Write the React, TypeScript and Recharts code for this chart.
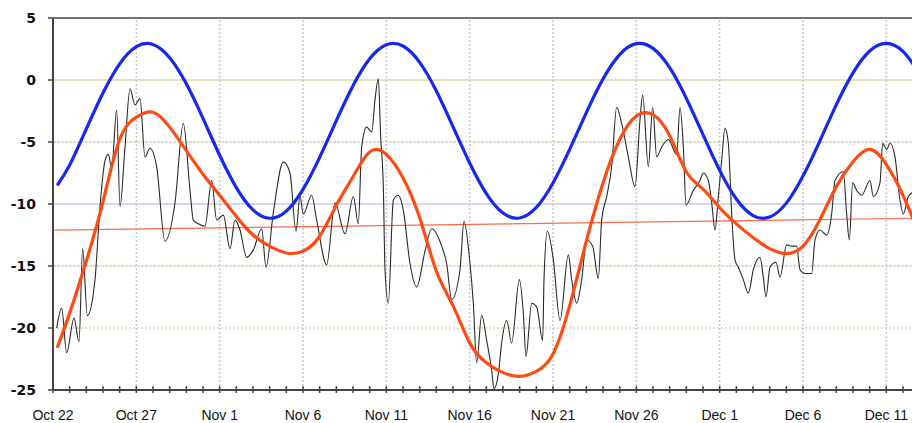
import React from "react";
import { LineChart, Line, XAxis, YAxis, ReferenceLine } from "recharts";

// ---- Data ----
const xTickDays = [0, 5, 10, 15, 20, 25, 30, 35, 40, 45, 50];
const xTickLabels = ["Oct 22", "Oct 27", "Nov 1", "Nov 6", "Nov 11", "Nov 16", "Nov 21", "Nov 26", "Dec 1", "Dec 6", "Dec 11"];
const yTicks = [-25, -20, -15, -10, -5, 0, 5];
const yTickLabels = ["-25", "-20", "-15", "-10", "-5", "0", "5"];

// days since Oct 22
const curveDays = [0.25, 1, 2, 3, 4, 5, 6, 7, 8, 9, 10, 11, 12, 13, 14, 15, 16, 17, 18, 19, 20, 21, 22, 23, 24, 25, 26,
  27, 28, 29, 30, 31, 32, 33, 34, 35, 36, 37, 38, 39, 40, 41, 42, 43, 44, 45, 46, 47, 48, 49, 50, 51, 52];
const blueValues = [-8.5, -6.86, -3.94, -1.05, 1.3, 2.69, 2.87, 1.8, -0.31, -3.1, -6.07, -8.68, -10.48, -11.15, -10.57,
  -8.82, -6.24, -3.28, -0.46, 1.71, 2.84, 2.74, 1.42, -0.88, -3.76, -6.69, -9.16, -10.73, -11.13, -10.27, -8.3, -5.6,
  -2.63, 0.08, 2.05, 2.93, 2.55, 0.99, -1.48, -4.41, -7.29, -9.6, -10.93, -11.05, -9.93, -7.75, -4.95, -1.99, 0.57,
  2.34, 2.95, 2.3, 0.51];
const orangeValues = [-21.6, -18.8, -14.6, -9.8, -4.8, -3.0, -2.6, -3.8, -5.7, -7.6, -9.3, -11.0, -12.5, -13.4, -13.95,
  -13.8, -12.6, -10.1, -7.8, -5.8, -6.0, -7.9, -11.1, -15.4, -18.2, -21.2, -22.8, -23.6, -23.9, -23.5, -22.1, -18.2,
  -13.0, -8.3, -4.8, -2.9, -2.8, -4.5, -7.4, -8.8, -10.3, -11.6, -12.7, -13.6, -14.0, -13.4, -11.3, -8.6, -6.6, -5.6,
  -6.8, -9.3, -12.5];

const trendDays = [0.1, 51.6];
const trendValues = [-12.1, -11.15];

const blackDays = [0.22, 0.52, 0.82, 1.26, 1.56, 1.78, 2.06, 2.52, 2.82, 3.12, 3.32, 3.52, 3.82, 4.02, 4.32, 4.62, 4.92,
  5.22, 5.52, 5.82, 6.22, 6.72, 7.32, 7.82, 8.22, 8.42, 8.72, 9.12, 9.52, 9.82, 10.22, 10.62, 10.92, 11.22, 11.62, 12.02,
  12.52, 12.78, 13.22, 13.82, 14.22, 14.58, 14.82, 15.02, 15.52, 15.82, 16.42, 16.92, 17.52, 18.02, 18.32, 18.52, 18.82,
  19.12, 19.32, 19.52, 19.66, 19.82, 19.92, 20.12, 20.42, 20.72, 21.02, 21.42, 21.82, 22.32, 22.72, 23.32, 23.62, 23.92,
  24.42, 24.66, 25.02, 25.22, 25.42, 25.72, 26.02, 26.32, 26.46, 26.72, 26.92, 27.22, 27.52, 27.98, 28.22, 28.38, 28.72,
  29.02, 29.38, 29.46, 29.66, 30.02, 30.42, 30.92, 31.12, 31.42, 31.72, 32.02, 32.38, 32.72, 32.92, 33.22, 33.52, 33.82,
  34.12, 34.52, 34.92, 35.22, 35.38, 35.72, 35.98, 36.22, 36.52, 36.92, 37.42, 37.62, 37.82, 37.98, 38.42, 38.82, 39.02,
  39.32, 39.52, 39.72, 39.92, 40.12, 40.32, 40.52, 40.72, 40.92, 41.12, 41.42, 41.72, 42.02, 42.42, 42.62, 42.78, 43.02,
  43.38, 43.62, 44.02, 44.32, 44.62, 44.82, 45.12, 45.52, 45.72, 46.02, 46.42, 46.72, 46.92, 47.42, 47.62, 47.78, 47.98,
  48.22, 48.52, 49.02, 49.22, 49.62, 49.78, 50.02, 50.22, 50.52, 50.82, 51.02, 51.32, 51.54];
const blackValues = [-20.0, -18.4, -22.0, -19.2, -21.1, -13.6, -19.0, -16.1, -10.2, -6.5, -6.0, -7.1, -2.4, -10.2, -5.4,
  -0.7, -2.0, -1.5, -6.2, -5.5, -7.0, -13.0, -9.9, -3.5, -8.9, -11.3, -11.6, -11.8, -8.1, -11.3, -10.9, -13.6, -11.3,
  -12.1, -14.3, -13.7, -12.0, -15.1, -10.7, -6.6, -7.5, -12.2, -9.4, -10.8, -9.3, -11.3, -14.9, -9.9, -12.4, -9.4, -11.6,
  -5.4, -3.8, -4.2, -1.6, 0.1, -4.6, -8.6, -15.3, -18.0, -9.7, -9.3, -10.5, -14.8, -16.7, -13.8, -12.0, -13.4, -14.8,
  -17.7, -15.3, -11.4, -14.8, -18.0, -22.8, -18.95, -21.0, -23.4, -24.9, -23.7, -21.2, -19.4, -21.2, -16.1, -18.8, -22.3,
  -18.0, -18.3, -21.0, -16.1, -12.2, -14.5, -19.4, -14.1, -16.1, -18.0, -16.1, -12.9, -13.4, -16.0, -11.3, -9.4, -7.0,
  -2.2, -3.5, -6.2, -8.6, -3.2, -1.2, -7.0, -2.2, -6.2, -5.4, -4.8, -6.0, -2.2, -5.4, -10.1, -8.9, -8.1, -7.5, -8.1, -9.9,
  -12.1, -9.4, -6.5, -3.9, -5.1, -10.8, -14.5, -15.1, -16.1, -17.2, -15.3, -14.3, -15.9, -17.5, -15.1, -14.7, -15.9,
  -13.3, -13.4, -13.4, -15.3, -15.6, -15.6, -12.9, -12.1, -12.5, -10.8, -8.1, -7.4, -10.8, -12.9, -8.3, -8.9, -9.3, -8.1,
  -9.4, -8.3, -5.1, -5.6, -5.1, -6.2, -9.7, -10.8, -9.4, -9.1];

const zip = (xs: number[], ys: number[]) => xs.map((x, i) => ({ x, y: ys[i] }));
const blueData = zip(curveDays, blueValues);
const orangeData = zip(curveDays, orangeValues);
const trendData = zip(trendDays, trendValues);
const blackData = zip(blackDays, blackValues);

const minorTicks = Array.from({ length: 52 }, (_, i) => i);

const XTick = (props: any) => {
  const { x, y, payload } = props;
  const idx = xTickDays.indexOf(payload.value);
  return (
    <g>
      <line x1={x} x2={x} y1={y - 4} y2={y + 3} stroke="#444" strokeWidth={1.5} />
      {idx >= 0 && (
        <text x={x} y={y + 30} textAnchor="middle" fontFamily="'Liberation Sans', Arial, sans-serif" fontSize={14} fill="#111">
          {xTickLabels[idx]}
        </text>
      )}
    </g>
  );
};

const YTick = (props: any) => {
  const { x, y, payload } = props;
  const idx = yTicks.indexOf(payload.value);
  return (
    <g>
      <line x1={x - 5} x2={x} y1={y} y2={y} stroke="#444" strokeWidth={1.5} />
      <text x={x - 17} y={y + 5} textAnchor="end" fontFamily="'DejaVu Sans', Verdana, sans-serif" fontWeight="bold" fontSize={14} fill="#111">
        {yTickLabels[idx]}
      </text>
    </g>
  );
};

const hGrid = [
  { v: 0, c: "#d8d8a4", d: undefined },
  { v: -5, c: "#d4d4b0", d: "3 1" },
  { v: -10, c: "#c8c8f2", d: undefined },
  { v: -15, c: "#d8d8a4", d: "3 1" },
  { v: -20, c: "#d8d8a4", d: "2 2" },
];
const vGrid = [5, 10, 15, 20, 25, 30, 35, 40, 45, 50];

export default function App() {
  return (
    <div style={{ position: "absolute", left: 0, top: 0, width: 912, height: 423, background: "#fff", overflow: "hidden" }}>
      <LineChart width={912} height={423} margin={{ top: 18, right: 0, bottom: 0, left: 0 }}>
        <XAxis
          type="number"
          dataKey="x"
          domain={[0, 51.54]}
          allowDataOverflow
          ticks={minorTicks}
          interval={0}
          height={33}
          tickSize={0}
          tickMargin={0}
          tickLine={false}
          axisLine={{ stroke: "#444", strokeWidth: 2 }}
          tick={<XTick />}
        />
        <YAxis
          type="number"
          dataKey="y"
          domain={[-25, 5]}
          allowDataOverflow
          ticks={yTicks}
          interval={0}
          width={53}
          tickSize={0}
          tickMargin={0}
          tickLine={false}
          axisLine={{ stroke: "#444", strokeWidth: 2 }}
          tick={<YTick />}
        />
        {hGrid.map((g) => (
          <ReferenceLine key={"h" + g.v} y={g.v} stroke={g.c} strokeWidth={1.5} strokeDasharray={g.d} ifOverflow="hidden" />
        ))}
        {vGrid.map((v) => (
          <ReferenceLine key={"v" + v} x={v} stroke="#c6c6d6" strokeWidth={1.5} strokeDasharray="2 2" ifOverflow="hidden" />
        ))}
        <ReferenceLine y={5} stroke="#444" strokeWidth={1.5} />
        <Line data={trendData} dataKey="y" type="linear" stroke="#ff6a4a" strokeWidth={1.2} dot={false} isAnimationActive={false} />
        <Line data={blackData} dataKey="y" type="monotone" stroke="#2a2a2a" strokeWidth={1.1} dot={false} isAnimationActive={false} />
        <Line data={blueData} dataKey="y" type="natural" stroke="#1428f0" strokeWidth={3.2} dot={false} isAnimationActive={false} />
        <Line data={orangeData} dataKey="y" type="natural" stroke="#ff4a12" strokeWidth={3.2} dot={false} isAnimationActive={false} />
      </LineChart>
    </div>
  );
}
